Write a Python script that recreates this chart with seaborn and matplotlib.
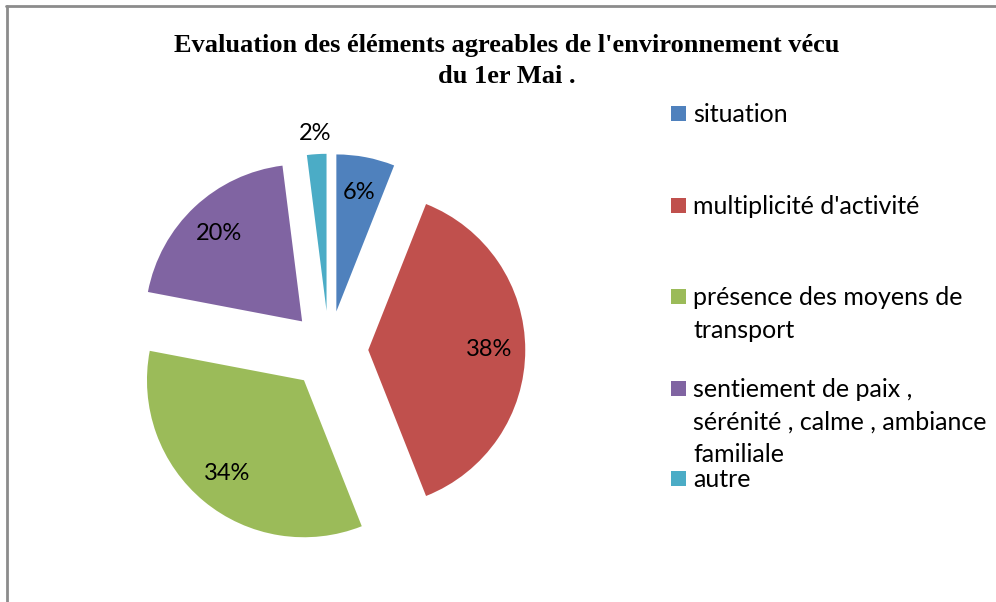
import matplotlib
matplotlib.use("Agg")
import matplotlib.pyplot as plt
import seaborn as sns
import numpy as np
from matplotlib.patches import Rectangle
from matplotlib.lines import Line2D

sns.set_theme(style="white")
plt.rcParams['font.family'] = ['Lato', 'DejaVu Sans']

categories = ["situation", "multiplicité d'activité", "présence des moyens de\ntransport",
              "sentiement de paix ,\nsérénité , calme , ambiance\nfamiliale", "autre"]
values = [6, 38, 34, 20, 2]
pct_labels = ["6%", "38%", "34%", "20%", "2%"]
colors = ["#4F81BD", "#C0504D", "#9BBB59", "#8064A2", "#4BACC6"]
title = "Evaluation des éléments agreables de l'environnement vécu\ndu 1er Mai ."

W, H = 996, 602
fig = plt.figure(figsize=(W / 100, H / 100), dpi=100)

# pie axes: center (329,350) px, radius 157 px
R = 157
cx, cy = 329, 350
half = 1.25 * R
ax = fig.add_axes([(cx - half) / W, (H - cy - half) / H, 2 * half / W, 2 * half / H])

wedges, texts, autotexts = ax.pie(
    values, colors=colors, startangle=90, counterclock=False,
    explode=[0.25] * len(values), radius=1.0,
    autopct=lambda p: "", pctdistance=0.77,
    wedgeprops=dict(linewidth=0),
)
ax.set_xlim(-1.25, 1.25)
ax.set_ylim(-1.25, 1.25)
ax.set_aspect('equal')
ax.axis('off')

# percent labels
for w, lab, v in zip(wedges, pct_labels, values):
    ang = np.deg2rad((w.theta1 + w.theta2) / 2)
    d = 1.13 if v < 4 else 0.77
    x = w.center[0] + d * np.cos(ang)
    y = w.center[1] + d * np.sin(ang)
    ax.text(x, y, lab, ha='center', va='center', fontsize=17, color='black')

# title
fig.text(507 / W, 1 - 61 / H, title, ha='center', va='center', fontsize=19,
         fontweight='bold', family=['Liberation Serif', 'DejaVu Serif'],
         linespacing=1.42, color='black')

# legend (manual, evenly spaced first lines)
leg_y = [113, 205, 296, 388, 478]
for lab, col, y in zip(categories, colors, leg_y):
    fig.patches.append(Rectangle(((671) / W, 1 - (y + 7.5) / H), 15 / W, 15 / H,
                                 transform=fig.transFigure, facecolor=col,
                                 edgecolor='none'))
    fig.text(693 / W, 1 - (y - 10) / H, lab, ha='left', va='top', fontsize=18,
             color='black', linespacing=1.5)

# border lines (left and top)
fig.add_artist(Line2D([7 / W, 7 / W], [0, 1 - 6 / H], transform=fig.transFigure,
                      color='#8c8c8c', linewidth=2))
fig.add_artist(Line2D([6 / W, 1], [1 - 6 / H, 1 - 6 / H], transform=fig.transFigure,
                      color='#8c8c8c', linewidth=2))

fig.savefig("out.png", dpi=100, facecolor='white')
